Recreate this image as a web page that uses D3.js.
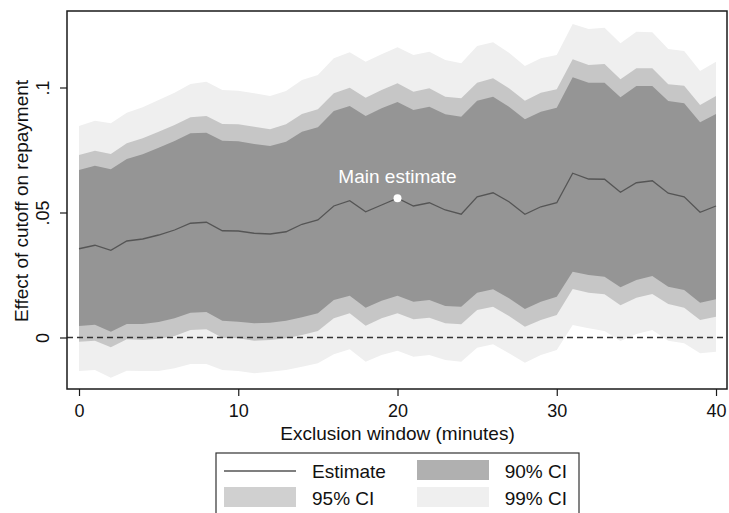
<!DOCTYPE html>
<html>
<head>
<meta charset="utf-8">
<script src="https://cdn.jsdelivr.net/npm/d3@7"></script>
<style>
  html, body { margin: 0; padding: 0; background: #fff; }
  svg { display: block; font-family: "Liberation Sans", Arial, Helvetica, sans-serif; }
</style>
</head>
<body>
<svg id="chart" width="729" height="513"></svg>
<script>
// ---- data ----
const windows = [0,1,2,3,4,5,6,7,8,9,10,11,12,13,14,15,16,17,18,19,20,21,22,23,24,25,26,27,28,29,30,31,32,33,34,35,36,37,38,39,40];
const estimate = [.0355,.0369,.0349,.0386,.0394,.0410,.0430,.0457,.0461,.0427,.0426,.0417,.0414,.0423,.0453,.0470,.0526,.0547,.0503,.0530,.0557,.0526,.0539,.0510,.0493,.0563,.0579,.0543,.0493,.0523,.0539,.0657,.0634,.0633,.0581,.0619,.0627,.0577,.0563,.0501,.0526];
const ci90Upper = [.0670,.0687,.0673,.0714,.0733,.0759,.0786,.0817,.0819,.0787,.0785,.0774,.0766,.0783,.0823,.0841,.0906,.0926,.0886,.0917,.0942,.0910,.0923,.0893,.0883,.0947,.0963,.0923,.0873,.0903,.0919,.1041,.1019,.1019,.0961,.1006,.1006,.0946,.0937,.0861,.0894];
const ci90Lower = [.0046,.0051,.0023,.0054,.0054,.0062,.0077,.0099,.0102,.0067,.0063,.0057,.0059,.0067,.0081,.0097,.0150,.0167,.0119,.0147,.0167,.0143,.0150,.0126,.0123,.0179,.0193,.0157,.0114,.0143,.0163,.0263,.0250,.0243,.0201,.0230,.0246,.0203,.0190,.0139,.0153];
const ci95Upper = [.0730,.0747,.0734,.0777,.0797,.0823,.0850,.0881,.0886,.0854,.0853,.0843,.0833,.0853,.0894,.0913,.0977,.0999,.0959,.0990,.1017,.0983,.0997,.0963,.0957,.1019,.1037,.0997,.0947,.0979,.0993,.1113,.1090,.1094,.1033,.1077,.1077,.1013,.1007,.0930,.0966];
const ci95Lower = [-.0017,-.0013,-.0039,-.0007,-.0010,-.0005,.0006,.0030,.0033,-.0001,-.0003,-.0013,-.0010,-.0003,.0010,.0026,.0077,.0097,.0047,.0077,.0097,.0073,.0079,.0057,.0053,.0110,.0123,.0086,.0043,.0070,.0090,.0194,.0179,.0173,.0129,.0159,.0174,.0134,.0119,.0070,.0083];
const ci99Upper = [.0846,.0867,.0857,.0899,.0921,.0950,.0979,.1014,.1023,.0990,.0987,.0977,.0966,.0986,.1030,.1050,.1117,.1141,.1103,.1133,.1161,.1130,.1143,.1110,.1097,.1166,.1181,.1139,.1086,.1117,.1130,.1254,.1234,.1239,.1177,.1223,.1221,.1154,.1146,.1066,.1103];
const ci99Lower = [-.0134,-.0130,-.0161,-.0133,-.0134,-.0134,-.0123,-.0106,-.0106,-.0130,-.0134,-.0143,-.0137,-.0130,-.0117,-.0103,-.0067,-.0047,-.0097,-.0070,-.0053,-.0077,-.0070,-.0090,-.0097,-.0041,-.0027,-.0063,-.0101,-.0070,-.0050,.0050,.0037,.0026,-.0014,.0014,.0030,-.0013,-.0023,-.0063,-.0057];
const xTicks = [0, 10, 20, 30, 40];
const yTicks = [0, 0.05, 0.1];
const yTickLabels = ["0", ".05", ".1"];
const mainWindow = 20;
const mainLabel = "Main estimate";
const xTitle = "Exclusion window (minutes)";
const yTitle = "Effect of cutoff on repayment";
const legendItems = ["Estimate", "90% CI", "95% CI", "99% CI"];

// ---- layout ----
const svg = d3.select("#chart");
const plot = { left: 67, right: 727, top: 11, bottom: 389 };
const x = d3.scaleLinear().domain([-0.754, 40.69]).range([plot.left, plot.right]);
const y = d3.scaleLinear().domain([-0.0206, 0.1306]).range([plot.bottom, plot.top]);

const rows = windows.map((w, i) => ({
  w, est: estimate[i],
  u90: ci90Upper[i], l90: ci90Lower[i],
  u95: ci95Upper[i], l95: ci95Lower[i],
  u99: ci99Upper[i], l99: ci99Lower[i]
}));

const area = (u, l) => d3.area().x(d => x(d.w)).y0(d => y(d[l])).y1(d => y(d[u]));

svg.append("path").datum(rows).attr("d", area("u99", "l99")).attr("fill", "#efefef");
svg.append("path").datum(rows).attr("d", area("u95", "l95")).attr("fill", "#c6c6c6");
svg.append("path").datum(rows).attr("d", area("u90", "l90")).attr("fill", "#959595");

// zero line
svg.append("line")
  .attr("x1", plot.left).attr("x2", plot.right)
  .attr("y1", y(0)).attr("y2", y(0))
  .attr("stroke", "#333").attr("stroke-width", 1.3)
  .attr("stroke-dasharray", "6,4");

// estimate line
svg.append("path").datum(rows)
  .attr("d", d3.line().x(d => x(d.w)).y(d => y(d.est)))
  .attr("fill", "none").attr("stroke", "#555").attr("stroke-width", 1.3);

// main estimate marker
const mi = windows.indexOf(mainWindow);
svg.append("circle")
  .attr("cx", x(mainWindow)).attr("cy", y(estimate[mi])).attr("r", 4)
  .attr("fill", "#fff");
svg.append("text")
  .attr("x", x(mainWindow)).attr("y", y(estimate[mi]) - 15)
  .attr("text-anchor", "middle").attr("fill", "#fff")
  .attr("font-size", 19).text(mainLabel);

// frame
svg.append("rect")
  .attr("x", plot.left).attr("y", plot.top)
  .attr("width", plot.right - plot.left).attr("height", plot.bottom - plot.top)
  .attr("fill", "none").attr("stroke", "#1a1a1a").attr("stroke-width", 1.5);

// x axis
const xAxis = svg.append("g").attr("transform", `translate(0,${plot.bottom})`)
  .call(d3.axisBottom(x).tickValues(xTicks).tickSize(7).tickPadding(8).tickFormat(d3.format("d")));
xAxis.select(".domain").remove();
xAxis.selectAll("line").attr("stroke", "#1a1a1a").attr("stroke-width", 1.2);
xAxis.selectAll("text").attr("font-size", 18).attr("fill", "#111")
  .attr("font-family", "Liberation Sans, Arial, sans-serif");

// y axis
const yAxis = svg.append("g").attr("transform", `translate(${plot.left},0)`)
  .call(d3.axisLeft(y).tickValues(yTicks).tickSize(7).tickFormat((d, i) => yTickLabels[i]));
yAxis.select(".domain").remove();
yAxis.selectAll("line").attr("stroke", "#1a1a1a").attr("stroke-width", 1.2);
yAxis.selectAll("text").remove();
yAxis.selectAll(".tick").append("text")
  .attr("transform", "translate(-24,0) rotate(-90)")
  .attr("text-anchor", "middle").attr("dy", "0.35em")
  .attr("font-size", 18).attr("fill", "#111")
  .attr("font-family", "Liberation Sans, Arial, sans-serif")
  .text((d, i) => yTickLabels[i]);

// axis titles
svg.append("text").attr("x", (x(0) + x(40)) / 2).attr("y", 440)
  .attr("text-anchor", "middle").attr("font-size", 19).attr("fill", "#111").text(xTitle);
svg.append("text")
  .attr("transform", `translate(28,${(plot.top + plot.bottom) / 2 + 1}) rotate(-90)`)
  .attr("text-anchor", "middle").attr("font-size", 19).attr("fill", "#111").text(yTitle);

// legend
const lg = svg.append("g");
lg.append("rect").attr("x", 216).attr("y", 453).attr("width", 363).attr("height", 70)
  .attr("fill", "#fff").attr("stroke", "#333").attr("stroke-width", 1.2);
lg.append("line").attr("x1", 224).attr("x2", 296).attr("y1", 471).attr("y2", 471)
  .attr("stroke", "#555").attr("stroke-width", 1.3);
lg.append("rect").attr("x", 417).attr("y", 460).attr("width", 72).attr("height", 20).attr("fill", "#b0b0b0");
lg.append("rect").attr("x", 224).attr("y", 487).attr("width", 72).attr("height", 20).attr("fill", "#d0d0d0");
lg.append("rect").attr("x", 417).attr("y", 487).attr("width", 72).attr("height", 20).attr("fill", "#efefef");
lg.append("text").attr("x", 312).attr("y", 478).attr("font-size", 19).attr("fill", "#111").text(legendItems[0]);
lg.append("text").attr("x", 567).attr("y", 478).attr("text-anchor", "end").attr("font-size", 19).attr("fill", "#111").text(legendItems[1]);
lg.append("text").attr("x", 312).attr("y", 505).attr("font-size", 19).attr("fill", "#111").text(legendItems[2]);
lg.append("text").attr("x", 567).attr("y", 505).attr("text-anchor", "end").attr("font-size", 19).attr("fill", "#111").text(legendItems[3]);
</script>
</body>
</html>
